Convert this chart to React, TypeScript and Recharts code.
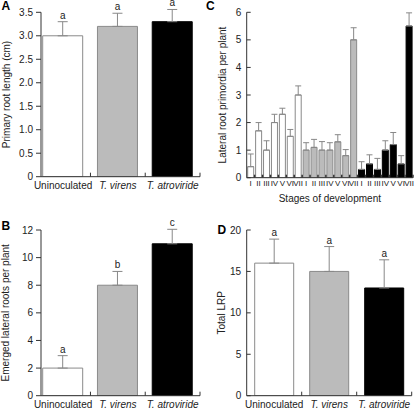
import React from 'react';
import { BarChart, Bar, XAxis, YAxis, ErrorBar, Cell, LabelList, Label } from 'recharts';

// treatments shared by panels A, B and D
const treatments = ['Uninoculated', 'T. virens', 'T. atroviride'];

// A: primary root length (cm)
const rootLength = [3.0, 3.2, 3.3];
const rootLengthErr = [0.3, 0.28, 0.26];
const rootLengthLetters = ['a', 'a', 'a'];

// B: emerged lateral roots per plant
const emergedRoots = [2, 8, 11];
const emergedRootsErr = [0.9, 1.0, 1.05];
const emergedLetters = ['a', 'b', 'c'];

// D: total LRP
const totalLrp = [16, 15, 13];
const totalLrpErr = [2.9, 3.0, 3.4];
const totalLrpLetters = ['a', 'a', 'a'];

// C: lateral root primordia per stage, one list per treatment
const stages = ['I', 'II', 'III', 'IV', 'V', 'VI', 'VII'];
const primordiaUninoc = [0.4, 1.7, 1.0, 2.0, 2.3, 1.5, 3.0];
const primordiaUninocErr = [0.46, 0.3, 0.34, 0.3, 0.22, 0.25, 0.33];
const primordiaVirens = [1.0, 1.1, 1.0, 1.0, 1.3, 0.8, 5.0];
const primordiaVirensErr = [0.27, 0.29, 0.31, 0.27, 0.26, 0.22, 0.44];
const primordiaAtro = [0.3, 0.5, 0.3, 1.0, 1.2, 0.5, 5.5];
const primordiaAtroErr = [0.28, 0.33, 0.4, 0.34, 0.44, 0.3, 0.48];

const ticksA = [0, 0.5, 1, 1.5, 2, 2.5, 3, 3.5];
const ticksB = [0, 2, 4, 6, 8, 10, 12];
const ticksC = [0, 1, 2, 3, 4, 5, 6];
const ticksD = [0, 5, 10, 15, 20];

const FILLS = ['#ffffff', '#bbbbbb', '#000000'];
const STROKES = ['#8a8a8a', '#8a8a8a', '#000000'];
const INK = '#222';
const AXIS = '#333';
const ERR = '#888';

type Row = { name: string; value: number; err: number[]; letter: string; group: number };

const treatmentRows = (vals: number[], errs: number[], letters: string[]): Row[] =>
  treatments.map((name, i) => ({ name, value: vals[i], err: [0, errs[i]], letter: letters[i], group: i }));

const primordiaGroups = [
  [primordiaUninoc, primordiaUninocErr],
  [primordiaVirens, primordiaVirensErr],
  [primordiaAtro, primordiaAtroErr],
];
const primordiaRows: Row[] = primordiaGroups.flatMap(([vals, errs], gi) =>
  stages.map((s, si) => ({ name: `${gi}-${s}`, value: vals[si], err: [0, errs[si]], letter: '', group: gi }))
);

// letter sits just above the error bar cap; scale is taken from the bar itself
const letterContent = (rows: Row[]) => (p: any) => {
  const row = rows[p.index];
  if (!row || !row.letter) return null;
  const h = Math.abs(Number(p.height));
  const ppu = h / row.value;
  const top = Number(p.y) - row.err[1] * ppu;
  return (
    <text x={Number(p.x) + Number(p.width) / 2} y={top - 3} textAnchor="middle" fontSize={10} fill={INK}>
      {row.letter}
    </text>
  );
};

const yTitle = (text: string, dx: number) => (p: any) => {
  const vb = p.viewBox || { x: 0, y: 0, height: 0 };
  const cx = vb.x + dx;
  const cy = vb.y + vb.height / 2;
  return (
    <text x={cx} y={cy} dy="0.35em" transform={`rotate(-90 ${cx} ${cy})`} textAnchor="middle" fontSize={10} fill={INK}>
      {text}
    </text>
  );
};

function TreatmentTick(props: any) {
  const { x, y, payload } = props;
  const half = payload?.offset ?? 27.5;
  const name = String(payload.value);
  return (
    <g>
      <line x1={x + half} x2={x + half} y1={y} y2={y - 4} stroke={AXIS} />
      <text x={x} y={y + 12} textAnchor="middle" fontSize={10} fill={INK} fontStyle={name.startsWith('T.') ? 'italic' : 'normal'}>
        {name}
      </text>
    </g>
  );
}

function StageTick(props: any) {
  const { x, y, payload } = props;
  const half = payload?.offset ?? 4;
  const label = String(payload.value).split('-')[1];
  return (
    <g>
      <line x1={x + half} x2={x + half} y1={y} y2={y - 3} stroke={AXIS} strokeWidth={1.5} />
      <text x={x} y={y + 8} textAnchor="middle" fontSize={8} fill={INK}>
        {label}
      </text>
    </g>
  );
}

function InwardYTick(props: any) {
  const { x, y, payload, gap } = props;
  return (
    <g>
      <line x1={x + gap} x2={x + gap + 4} y1={y} y2={y} stroke={AXIS} />
      <text x={x} y={y} dy="0.35em" textAnchor="end" fontSize={10} fill={INK}>
        {payload.value}
      </text>
    </g>
  );
}

type PanelProps = {
  rows: Row[];
  left: number;
  top: number;
  width: number;
  height: number;
  marginTop: number;
  marginRight: number;
  xHeight: number;
  yWidth: number;
  padLeft: number;
  barSize: number;
  capWidth: number;
  domain: number[];
  ticks: number[];
  title: string;
  titleDx: number;
  inward?: boolean;
  fmt?: (v: number) => string;
  stageAxis?: boolean;
};

function Panel(p: PanelProps) {
  const yGap = p.inward ? 5.5 : 8;
  return (
    <div style={{ position: 'absolute', left: p.left, top: p.top, width: p.width, height: p.height }}>
      <BarChart
        width={p.width}
        height={p.height}
        data={p.rows}
        margin={{ top: p.marginTop, right: p.marginRight, bottom: 0, left: 0 }}
      >
        <XAxis
          dataKey="name"
          type="category"
          interval={0}
          height={p.xHeight}
          padding={{ left: p.padLeft, right: 0 }}
          axisLine={{ stroke: AXIS }}
          tickLine={false}
          tickSize={0}
          tickMargin={0}
          tick={p.stageAxis ? <StageTick /> : <TreatmentTick />}
        >
          {p.stageAxis && (
            <Label
              content={(lp: any) => {
                const vb = lp.viewBox || { x: 0, y: 0, width: 0 };
                return (
                  <text x={vb.x + vb.width / 2} y={vb.y + 24.5} textAnchor="middle" fontSize={10} fill={INK}>
                    Stages of development
                  </text>
                );
              }}
            />
          )}
        </XAxis>
        <YAxis
          type="number"
          width={p.yWidth}
          domain={p.domain}
          ticks={p.ticks}
          allowDataOverflow
          interval={0}
          axisLine={{ stroke: AXIS }}
          tickLine={p.inward ? false : { stroke: AXIS }}
          tickSize={p.inward ? 0 : 5}
          tickMargin={p.inward ? yGap : 3}
          tickFormatter={p.fmt}
          tick={p.inward ? <InwardYTick gap={yGap} /> : { fill: INK, fontSize: 10 }}
        >
          <Label content={yTitle(p.title, p.titleDx)} />
        </YAxis>
        <Bar dataKey="value" barSize={p.barSize} isAnimationActive={false} strokeWidth={1}>
          {p.rows.map((r, i) => (
            <Cell key={i} fill={FILLS[r.group]} stroke={STROKES[r.group]} />
          ))}
          <ErrorBar dataKey="err" direction="y" width={p.capWidth} stroke={ERR} strokeWidth={1} />
          <LabelList dataKey="letter" content={letterContent(p.rows)} />
        </Bar>
      </BarChart>
    </div>
  );
}

const panelLetters = [
  { t: 'A', x: 1.5, y: 10 },
  { t: 'B', x: 1.5, y: 229.5 },
  { t: 'C', x: 206, y: 10 },
  { t: 'D', x: 217.5, y: 233.5 },
];

export default function App() {
  const fmtA = (v: number) => (v === 0 ? '0' : v.toFixed(1));
  return (
    <div
      style={{
        position: 'absolute',
        left: 0,
        top: 0,
        width: 414,
        height: 410,
        background: '#fff',
        fontFamily: '"Liberation Sans", Arial, sans-serif',
        overflow: 'hidden',
      }}
    >
      <Panel
        rows={treatmentRows(rootLength, rootLengthErr, rootLengthLetters)}
        left={0} top={0} width={207} height={200}
        marginTop={12.3} marginRight={7} xHeight={23.3} yWidth={41} padLeft={-5.3}
        barSize={40} capWidth={5} domain={[0, 3.5]} ticks={ticksA}
        title="Primary root length (cm)" titleDx={6} fmt={fmtA}
      />
      <Panel
        rows={treatmentRows(emergedRoots, emergedRootsErr, emergedLetters)}
        left={0} top={200} width={207} height={210}
        marginTop={30} marginRight={7} xHeight={14.3} yWidth={41} padLeft={-5.3}
        barSize={40} capWidth={5} domain={[0, 12]} ticks={ticksB}
        title="Emerged lateral roots per plant" titleDx={6}
      />
      <Panel
        rows={primordiaRows}
        left={205} top={0} width={209} height={205}
        marginTop={12.3} marginRight={1} xHeight={27.3} yWidth={41.7} padLeft={0}
        barSize={6} capWidth={3} domain={[0, 6]} ticks={ticksC}
        title="Lateral root primordia per plant" titleDx={17} inward stageAxis
      />
      <Panel
        rows={treatmentRows(totalLrp, totalLrpErr, totalLrpLetters)}
        left={205} top={200} width={209} height={210}
        marginTop={30} marginRight={2.3} xHeight={14.3} yWidth={41.7} padLeft={0}
        barSize={39} capWidth={5} domain={[0, 20]} ticks={ticksD}
        title="Total LRP" titleDx={17} inward
      />
      <svg width={414} height={410} style={{ position: 'absolute', left: 0, top: 0, pointerEvents: 'none' }}>
        {panelLetters.map((l) => (
          <text key={l.t} x={l.x} y={l.y} fontSize={12} fontWeight="bold" fill="#000">
            {l.t}
          </text>
        ))}
      </svg>
    </div>
  );
}
